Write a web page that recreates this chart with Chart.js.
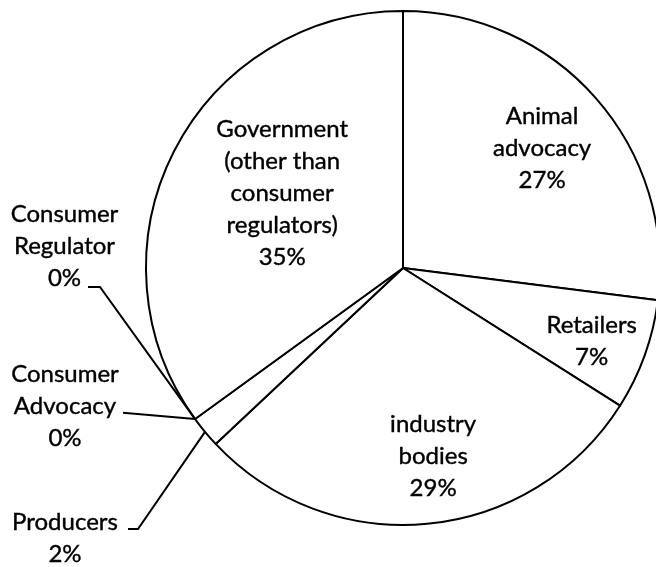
<!DOCTYPE html>
<html>
<head>
<meta charset="utf-8">
<title>Stakeholder share</title>
<script src="https://cdn.jsdelivr.net/npm/chart.js@4/dist/chart.umd.min.js"></script>
<style>
  html, body { margin: 0; padding: 0; background: #fff; overflow: hidden; }
  #wrap { position: absolute; left: 0; top: 0; width: 700px; height: 567px; }
</style>
</head>
<body>
<div id="wrap"><canvas id="pie" width="700" height="567"></canvas></div>
<script>
// Stakeholder groups, clockwise from 12 o'clock
const categories = [
  'Animal advocacy',
  'Retailers',
  'industry bodies',
  'Producers',
  'Consumer Advocacy',
  'Consumer Regulator',
  'Government (other than consumer regulators)'
];

// Share of each group, in percent
const shares = [27, 7, 29, 2, 0, 0, 35];

// How each category name wraps inside its label
const nameLines = [
  ['Animal', 'advocacy'],
  ['Retailers'],
  ['industry', 'bodies'],
  ['Producers'],
  ['Consumer', 'Advocacy'],
  ['Consumer', 'Regulator'],
  ['Government', '(other than', 'consumer', 'regulators)']
];

// Label placement: inside labels sit at a fraction of the radius (with a small
// angular nudge in degrees); outside labels have a fixed block centre and a
// leader line that runs to the slice's rim.
const placement = [
  { r: 0.715, turn: 0.6 },
  { r: 0.788, turn: 1.5 },
  { r: 0.742, turn: -3.7 },
  { at: [65, 538], leader: [[128, 529], [138, 529]] },
  { at: [65, 406], leader: [[123, 412.7]] },
  { at: [64.5, 246], leader: [[88, 287], [100, 287]] },
  { r: 0.552, turn: 4.6 }
];

const FONT = '24px Lato, "Open Sans", sans-serif';
const LINE_H = 32;

const sliceLabels = {
  id: 'sliceLabels',
  afterDatasetsDraw(chart) {
    const ctx = chart.ctx;
    const arcs = chart.getDatasetMeta(0).data;
    ctx.save();
    ctx.font = FONT;
    ctx.fillStyle = '#000';
    ctx.textAlign = 'center';
    ctx.textBaseline = 'middle';
    arcs.forEach((arc, i) => {
      const { x, y, startAngle, endAngle, outerRadius } =
        arc.getProps(['x', 'y', 'startAngle', 'endAngle', 'outerRadius'], true);
      const lines = nameLines[i].concat([shares[i] + '%']);
      const p = placement[i];
      const mid = (startAngle + endAngle) / 2;
      let cx, cy;
      if (p.r !== undefined) {
        const a = mid + p.turn * Math.PI / 180;
        cx = x + p.r * outerRadius * Math.cos(a);
        cy = y + p.r * outerRadius * Math.sin(a);
      } else {
        cx = p.at[0];
        cy = p.at[1];
        // leader line from the label to the rim of the slice
        const rimX = x + outerRadius * Math.cos(mid);
        const rimY = y + outerRadius * Math.sin(mid);
        ctx.beginPath();
        ctx.lineWidth = 2;
        ctx.strokeStyle = '#000';
        ctx.moveTo(p.leader[0][0], p.leader[0][1]);
        for (let k = 1; k < p.leader.length; k++) ctx.lineTo(p.leader[k][0], p.leader[k][1]);
        ctx.lineTo(rimX, rimY);
        ctx.stroke();
      }
      const top = cy - (lines.length - 1) * LINE_H / 2;
      ctx.lineWidth = 0.4;
      ctx.strokeStyle = '#000';
      lines.forEach((t, k) => {
        ctx.fillText(t, cx, top + k * LINE_H);
        ctx.strokeText(t, cx, top + k * LINE_H);
      });
    });
    ctx.restore();
  }
};

new Chart(document.getElementById('pie'), {
  type: 'pie',
  data: {
    labels: categories,
    datasets: [{
      data: shares,
      backgroundColor: '#ffffff',
      borderColor: '#000000',
      borderWidth: 2,
      hoverOffset: 0
    }]
  },
  options: {
    responsive: false,
    animation: false,
    events: [],
    layout: { padding: { left: 145, right: 39, top: 10, bottom: 41 } },
    plugins: {
      legend: { display: false },
      tooltip: { enabled: false }
    }
  },
  plugins: [sliceLabels]
});
</script>
</body>
</html>
